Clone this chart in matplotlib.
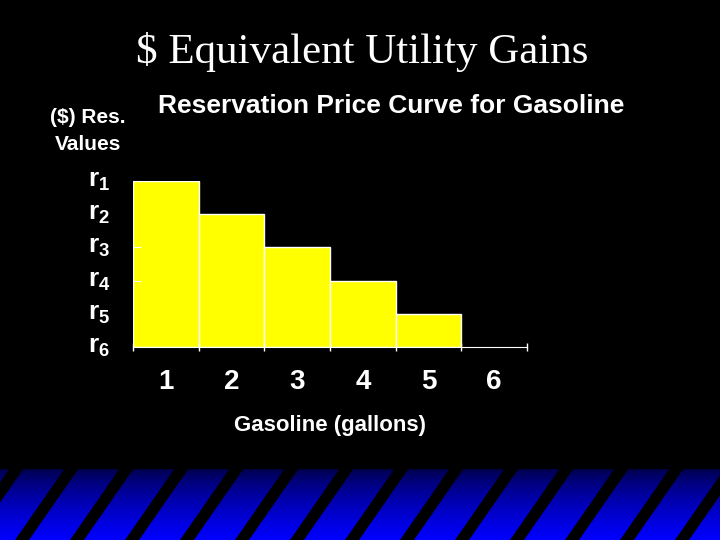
import numpy as np
import matplotlib.pyplot as plt
from matplotlib.patches import Polygon

plt.rcParams['font.family'] = 'Liberation Sans'
plt.rcParams['mathtext.fontset'] = 'custom'
plt.rcParams['mathtext.rm'] = 'Liberation Sans:bold'
plt.rcParams['mathtext.bf'] = 'Liberation Sans:bold'

gallons = [1, 2, 3, 4, 5]
res_values = [5, 4, 3, 2, 1]
x_labels = ['1', '2', '3', '4', '5', '6']
y_labels = ['r$_1$', 'r$_2$', 'r$_3$', 'r$_4$', 'r$_5$', 'r$_6$']
y_label_pos = [5, 4, 3, 2, 1, 0]

fig = plt.figure(figsize=(7.2, 5.4), dpi=100, facecolor='black')

# striped blue band at the bottom
band = fig.add_axes([0, 0, 1, 80 / 540])
band.set_xlim(0, 720)
band.set_ylim(0, 80)
grad = np.linspace(1, 0, 100).reshape(-1, 1)
band.imshow(np.dstack([np.zeros_like(grad), np.zeros_like(grad), 0.05 + 0.95 * grad ** 0.6]),
            extent=[0, 720, 0, 80], aspect='auto', origin='lower')
for x0 in range(-40, 780, 55):
    band.add_patch(Polygon([[x0, 0], [x0 + 14, 0], [x0 + 64, 72], [x0 + 50, 72]],
                           closed=True, color='black', lw=0))
band.axhspan(72, 80, color='black')
band.axis('off')

ax = fig.add_axes([133 / 720, 193 / 540, 394 / 720, 166 / 540])
ax.set_facecolor('black')
ax.bar([g - 0.5 for g in gallons], res_values, width=1.0, color='#ffff00',
       edgecolor='white', linewidth=1)
ax.set_xlim(0, 6)
ax.set_ylim(0, 5)
for s in ['top', 'right', 'left']:
    ax.spines[s].set_visible(False)
ax.spines['bottom'].set_color('white')
ax.set_xticks(range(7))
ax.set_xticklabels([])
ax.set_xticks([i + 0.5 for i in range(6)], minor=True)
ax.set_xticklabels(x_labels, minor=True)
ax.tick_params(axis='x', which='major', colors='white', length=6, direction='inout', width=1)
ax.tick_params(axis='x', which='minor', length=0, pad=16, labelsize=20, labelcolor='white')
for t in ax.get_xticklabels(minor=True):
    t.set_fontweight('bold')
ax.set_yticks([5, 3, 2])
ax.set_yticklabels([])
ax.tick_params(axis='y', colors='white', length=6, direction='in')
for pos, lab in zip(y_label_pos, y_labels):
    ax.text(-0.115, pos, lab, transform=ax.get_yaxis_transform(), color='white',
            fontsize=19, fontweight='bold', ha='left', va='center')
ax.set_xlabel('Gasoline (gallons)', color='white', fontsize=16, fontweight='bold', labelpad=14)

fig.text(0.503, 0.903, '$ Equivalent Utility Gains', color='white', fontsize=31,
         family='Liberation Serif', ha='center', va='center')
fig.text(0.543, 0.803, 'Reservation Price Curve for Gasoline', color='white', fontsize=19,
         fontweight='bold', ha='center', va='center')
fig.text(0.122, 0.758, '($) Res.\nValues', color='white', fontsize=15, fontweight='bold',
         ha='center', va='center', linespacing=1.55)

fig.savefig('out.png', dpi=100, facecolor='black')
